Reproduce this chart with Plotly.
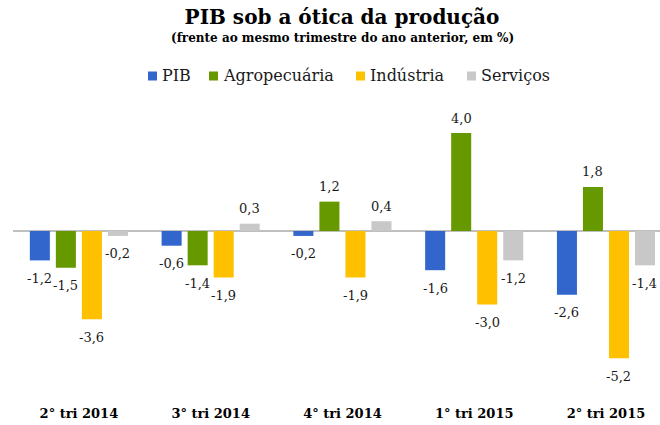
import plotly.graph_objects as go

categories = ["2° tri 2014", "3° tri 2014", "4° tri 2014", "1° tri 2015", "2° tri 2015"]
pib = [-1.2, -0.6, -0.2, -1.6, -2.6]
agro = [-1.5, -1.4, 1.2, 4.0, 1.8]
industria = [-3.6, -1.9, -1.9, -3.0, -5.2]
servicos = [-0.2, 0.3, 0.4, -1.2, -1.4]

series_names = ["PIB", "Agropecuária", "Indústria", "Serviços"]
series_values = [pib, agro, industria, servicos]
series_colors = ["#3366CC", "#669900", "#FFC000", "#C8C8C8"]

FONT = "Georgia, 'DejaVu Serif', serif"
W, H = 660, 425
ML, MR, MT, MB = 13, 0, 100, 25
PW, PH = W - ML - MR, H - MT - MB


def px_x(px):
    return (px - ML) / PW


def px_y(py):
    return (H - MB - py) / PH


fig = go.Figure()
annotations = []
shapes = []
for i, (name, vals, color) in enumerate(zip(series_names, series_values, series_colors)):
    fig.add_trace(go.Bar(x=categories, y=vals, name=name, marker_color=color,
                         marker_line_width=0, showlegend=False))
    xs = (i - 1.5) * 26
    for c, v in zip(categories, vals):
        annotations.append(dict(
            x=c, y=v, xref="x", yref="y", text=f"{v:.1f}".replace(".", ","),
            showarrow=False, xshift=xs, yshift=(-18 if v < 0 else 15),
            font=dict(family=FONT, size=13, color="#1a1a1a")))

# custom legend (square + label), positioned in pixels
legend_px = [148, 209, 356, 467]
legend_y = 76
for px, name, color in zip(legend_px, series_names, series_colors):
    shapes.append(dict(type="rect", xref="paper", yref="paper",
                       x0=px_x(px), x1=px_x(px + 9),
                       y0=px_y(legend_y + 4.5), y1=px_y(legend_y - 4.5),
                       fillcolor=color, line_width=0))
    annotations.append(dict(
        x=px_x(px + 12), y=px_y(legend_y),
        xref="paper", yref="paper", xanchor="left", yanchor="middle",
        text=name, showarrow=False,
        font=dict(family=FONT, size=16, color="#1a1a1a")))

annotations.append(dict(
    x=px_x(343), y=px_y(38), xref="paper", yref="paper",
    xanchor="center", yanchor="middle", showarrow=False,
    text="<b>(frente ao mesmo trimestre do ano anterior, em %)</b>",
    font=dict(family=FONT, size=12, color="#000000")))

fig.update_layout(
    width=W, height=H,
    margin=dict(l=ML, r=MR, t=MT, b=MB),
    paper_bgcolor="white", plot_bgcolor="white",
    barmode="group", bargap=0.21, bargroupgap=0.23,
    title=dict(
        text="<b>PIB sob a ótica da produção</b>",
        x=342 / W, xref="container", xanchor="center",
        y=1 - 17 / H, yref="container", yanchor="middle",
        font=dict(family=FONT, size=20, color="#000000")),
    xaxis=dict(range=[-0.5, 4.41], showgrid=False, showline=False, ticks="",
               ticklabelstandoff=4,
               tickfont=dict(family=FONT, size=13, color="#000000", weight="bold")),
    yaxis=dict(range=[-6.9, 5.35], showgrid=False, showticklabels=False,
               zeroline=True, zerolinecolor="#BFBFBF", zerolinewidth=2),
    annotations=annotations,
    shapes=shapes,
    showlegend=False,
)

fig.write_html("out.html", config={"displayModeBar": False},
               post_script="document.body.style.margin='0';")
